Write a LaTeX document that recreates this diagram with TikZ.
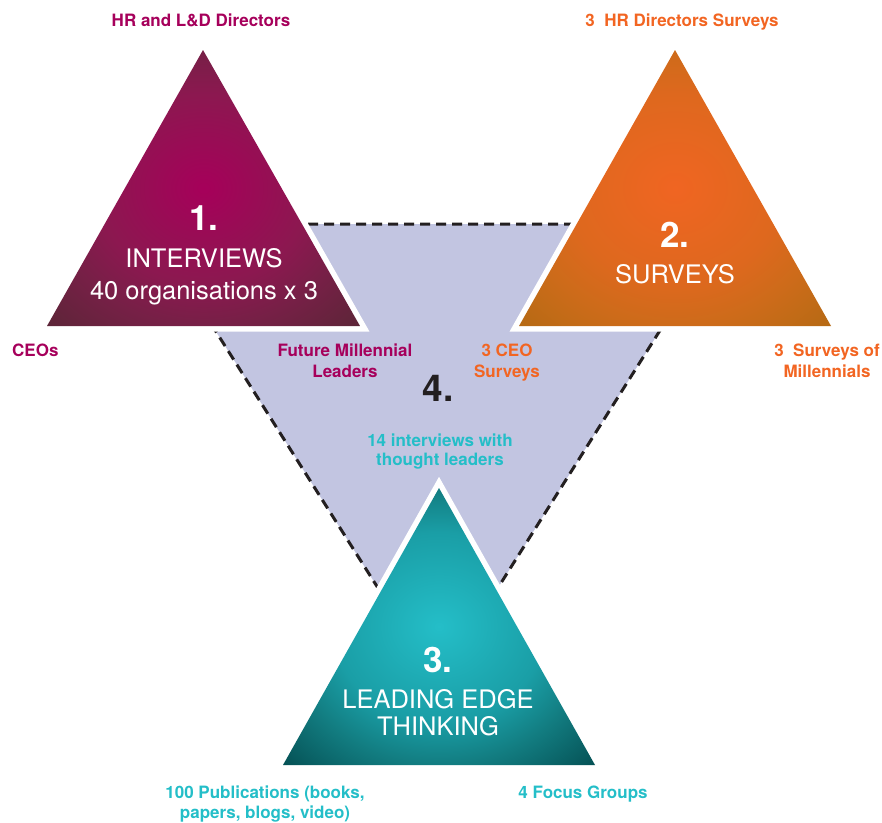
\documentclass[tikz,border=0pt]{standalone}
\usepackage{fontspec}
\setmainfont{TeX Gyre Heros}
\definecolor{lav}{RGB}{194,197,225}
\definecolor{dashc}{RGB}{35,31,32}
\definecolor{magtext}{RGB}{166,0,91}
\definecolor{orgtext}{RGB}{242,101,34}
\definecolor{teatext}{RGB}{36,190,200}
\pgfdeclareradialshading{magshade}{\pgfpoint{0bp}{0bp}}{rgb(0bp)=(0.651,0,0.353); rgb(17bp)=(0.549,0.094,0.314); rgb(25bp)=(0.463,0.125,0.275); rgb(35bp)=(0.365,0.145,0.220); rgb(50bp)=(0.365,0.145,0.220)}
\pgfdeclareradialshading{orgshade}{\pgfpoint{0bp}{0bp}}{rgb(0bp)=(0.941,0.396,0.133); rgb(17bp)=(0.871,0.408,0.118); rgb(25bp)=(0.804,0.420,0.102); rgb(35bp)=(0.714,0.416,0.078); rgb(50bp)=(0.714,0.416,0.078)}
\pgfdeclareradialshading{teashade}{\pgfpoint{0bp}{0bp}}{rgb(0bp)=(0.141,0.745,0.784); rgb(17bp)=(0.102,0.620,0.651); rgb(25bp)=(0.071,0.486,0.502); rgb(35bp)=(0.020,0.322,0.337); rgb(50bp)=(0.020,0.322,0.337)}
\tikzset{
  whiteedge/.style={draw=white, line width=11pt, line join=miter},
  lbl/.style={inner sep=0pt, anchor=base, font=\fontsize{17}{20}\selectfont\bfseries},
  bignum/.style={inner sep=0pt, anchor=base, text=white, font=\fontsize{35}{40}\selectfont\bfseries},
  title/.style={inner sep=0pt, anchor=base, text=white, font=\fontsize{25.5}{30}\selectfont}
}
\begin{document}
\begin{tikzpicture}[x=1pt,y=-1pt]
\useasboundingbox (0,0) rectangle (882,822);
% central inverted triangle
\fill[lav] (148,224) -- (727,224) -- (438,683) -- cycle;
\draw[dashc, line width=3pt, dash pattern=on 10pt off 6pt] (148,224) -- (727,224) -- (438,683) -- cycle;
% triangle 1
\draw[whiteedge] (203,50) -- (360,326) -- (47,326) -- cycle;
\shade[shading=magshade] (203,50) -- (360,326) -- (47,326) -- cycle;
% triangle 2
\draw[whiteedge] (675,50) -- (831,326) -- (519,326) -- cycle;
\shade[shading=orgshade] (675,50) -- (831,326) -- (519,326) -- cycle;
% triangle 3
\draw[whiteedge] (439,488) -- (595,765) -- (283,765) -- cycle;
\shade[shading=teashade] (439,488) -- (595,765) -- (283,765) -- cycle;
% texts in triangles
\node[bignum] (n1) at (204,230) {1.};
\node[title] (t1a) at (204,267) {INTERVIEWS};
\node[title] (t1b) at (204,299) {40 organisations x 3};
\node[bignum] (n2) at (675,247) {2.};
\node[title] (t2a) at (675,283) {SURVEYS};
\node[bignum] (n3) at (438,672) {3.};
\node[title] (t3a) at (438,708) {LEADING EDGE};
\node[title] (t3b) at (438,735) {THINKING};
\node[bignum, text=dashc, font=\fontsize{37}{40}\selectfont\bfseries] (n4) at (438,401) {4.};
% outer labels
\node[lbl, text=magtext] (hr) at (201,26) {HR and L\&D Directors};
\node[lbl, text=orgtext] (hrs) at (682,26) {3\ \ HR Directors Surveys};
\node[lbl, text=magtext, anchor=base west] (ceo) at (12,356) {CEOs};
\node[lbl, text=orgtext] (mil1) at (827,356) {3\ \ Surveys of};
\node[lbl, text=orgtext] (mil2) at (827,377) {Millennials};
\node[lbl, text=magtext] (fut1) at (345,356) {Future Millennial};
\node[lbl, text=magtext] (fut2) at (345,377) {Leaders};
\node[lbl, text=orgtext] (ceos1) at (507,356) {3 CEO};
\node[lbl, text=orgtext] (ceos2) at (507,377) {Surveys};
\node[lbl, text=teatext] (tl1) at (440,446) {14 interviews with};
\node[lbl, text=teatext] (tl2) at (440,465) {thought leaders};
\node[lbl, text=teatext] (pub1) at (265,798) {100 Publications (books,};
\node[lbl, text=teatext] (pub2) at (265,818) {papers, blogs, video)};
\node[lbl, text=teatext] (foc) at (583,798) {4 Focus Groups};
\end{tikzpicture}
\end{document}
